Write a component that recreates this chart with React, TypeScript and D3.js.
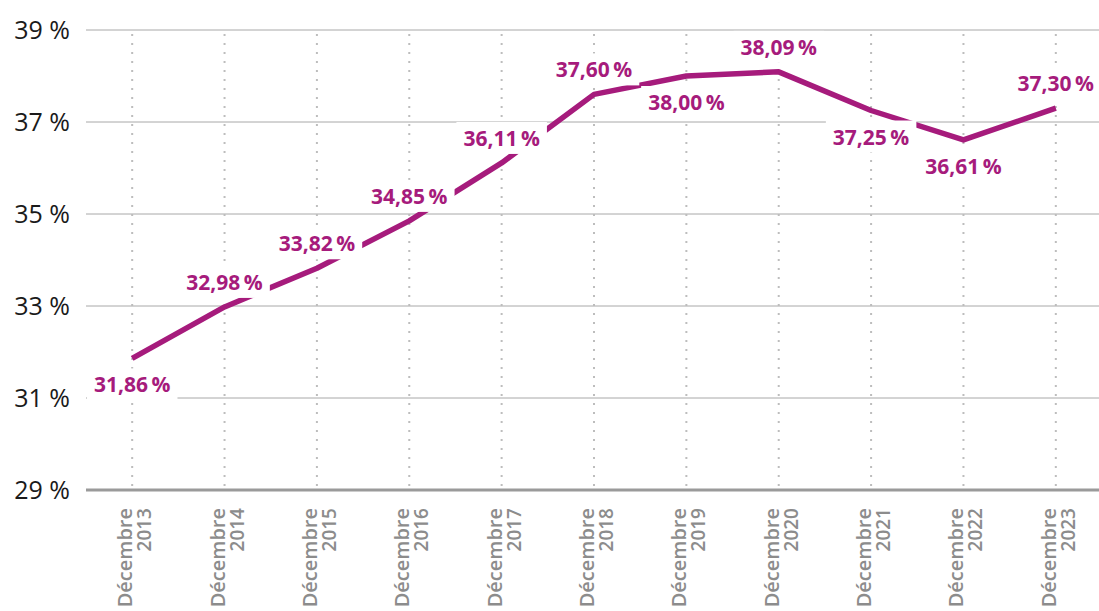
import React, { useEffect, useRef } from "react";
import * as d3 from "d3";

const years = ["2013", "2014", "2015", "2016", "2017", "2018", "2019", "2020", "2021", "2022", "2023"];
const values = [31.86, 32.98, 33.82, 34.85, 36.11, 37.6, 38.0, 38.09, 37.25, 36.61, 37.3];
const labelAbove = [false, true, true, true, true, true, false, true, false, false, true];
const yTicks = [29, 31, 33, 35, 37, 39];

const W = 1099;
const H = 611;
const COLOR = "#A61B7C";
const FONT = "'Open Sans', 'Noto Sans', sans-serif";

const fmt = (v: number) => v.toFixed(2).replace(".", ",") + "\u2009%";

export default function App() {
  const ref = useRef<SVGSVGElement | null>(null);

  useEffect(() => {
    const svg = d3.select(ref.current);
    svg.selectAll("*").remove();

    const x = d3.scalePoint<string>().domain(years).range([86, 1102]).padding(0.5);
    const y = d3.scaleLinear().domain([29, 39]).range([490, 30]);

    svg.append("g")
      .selectAll("line")
      .data(yTicks.filter((t) => t !== 29))
      .join("line")
      .attr("x1", 86)
      .attr("x2", W)
      .attr("y1", (d) => y(d))
      .attr("y2", (d) => y(d))
      .attr("stroke", "#a8a8a8")
      .attr("stroke-width", 1);

    svg.append("g")
      .selectAll("line")
      .data(years)
      .join("line")
      .attr("x1", (d) => x(d)!)
      .attr("x2", (d) => x(d)!)
      .attr("y1", y(39) + 4)
      .attr("y2", y(29))
      .attr("stroke", "#bdbdbd")
      .attr("stroke-width", 2)
      .attr("stroke-dasharray", "2,7");

    svg.append("line")
      .attr("x1", 86)
      .attr("x2", W)
      .attr("y1", y(29))
      .attr("y2", y(29))
      .attr("stroke", "#9a9a9a")
      .attr("stroke-width", 3);

    svg.append("g")
      .selectAll("text")
      .data(yTicks)
      .join("text")
      .attr("x", 70)
      .attr("y", (d) => y(d) + 9)
      .attr("text-anchor", "end")
      .attr("font-family", FONT)
      .attr("font-size", 25)
      .attr("fill", "#1a1a1a")
      .text((d) => `${d} %`);

    const xl = svg.append("g")
      .selectAll("g")
      .data(years)
      .join("g")
      .attr("transform", (d) => `translate(${x(d)},${508}) rotate(-90)`);
    xl.append("text")
      .attr("x", 0)
      .attr("y", 0)
      .attr("text-anchor", "end")
      .attr("font-family", FONT)
      .attr("font-size", 20)
      .attr("font-weight", 600)
      .attr("fill", "#8c8c8c")
      .text("Décembre");
    xl.append("text")
      .attr("x", 0)
      .attr("y", 19)
      .attr("text-anchor", "end")
      .attr("font-family", FONT)
      .attr("font-size", 19)
      .attr("font-weight", 600)
      .attr("fill", "#8c8c8c")
      .text((d) => d);

    const line = d3.line<number>()
      .x((_, i) => x(years[i])!)
      .y((d) => y(d));
    svg.append("path")
      .datum(values)
      .attr("d", line)
      .attr("fill", "none")
      .attr("stroke", COLOR)
      .attr("stroke-width", 5.5)
      .attr("stroke-linejoin", "round");

    const lg = svg.append("g");
    values.forEach((v, i) => {
      const cx = x(years[i])!;
      const cy = y(v);
      const ty = labelAbove[i] ? cy - 17 : cy + 34;
      const g = lg.append("g");
      const rect = g.append("rect").attr("fill", "white");
      const t = g.append("text")
        .attr("x", cx)
        .attr("y", ty)
        .attr("text-anchor", "middle")
        .attr("font-family", FONT)
        .attr("font-size", 21)
        .attr("font-weight", 700)
        .attr("fill", COLOR)
        .text(fmt(v));
      const bb = (t.node() as SVGTextElement).getBBox();
      rect
        .attr("x", bb.x - 7)
        .attr("y", bb.y - 2)
        .attr("width", bb.width + 14)
        .attr("height", bb.height + 4);
    });
  }, []);

  return <svg ref={ref} width={W} height={H} style={{ display: "block", position: "absolute", left: 0, top: 0 }} />;
}
